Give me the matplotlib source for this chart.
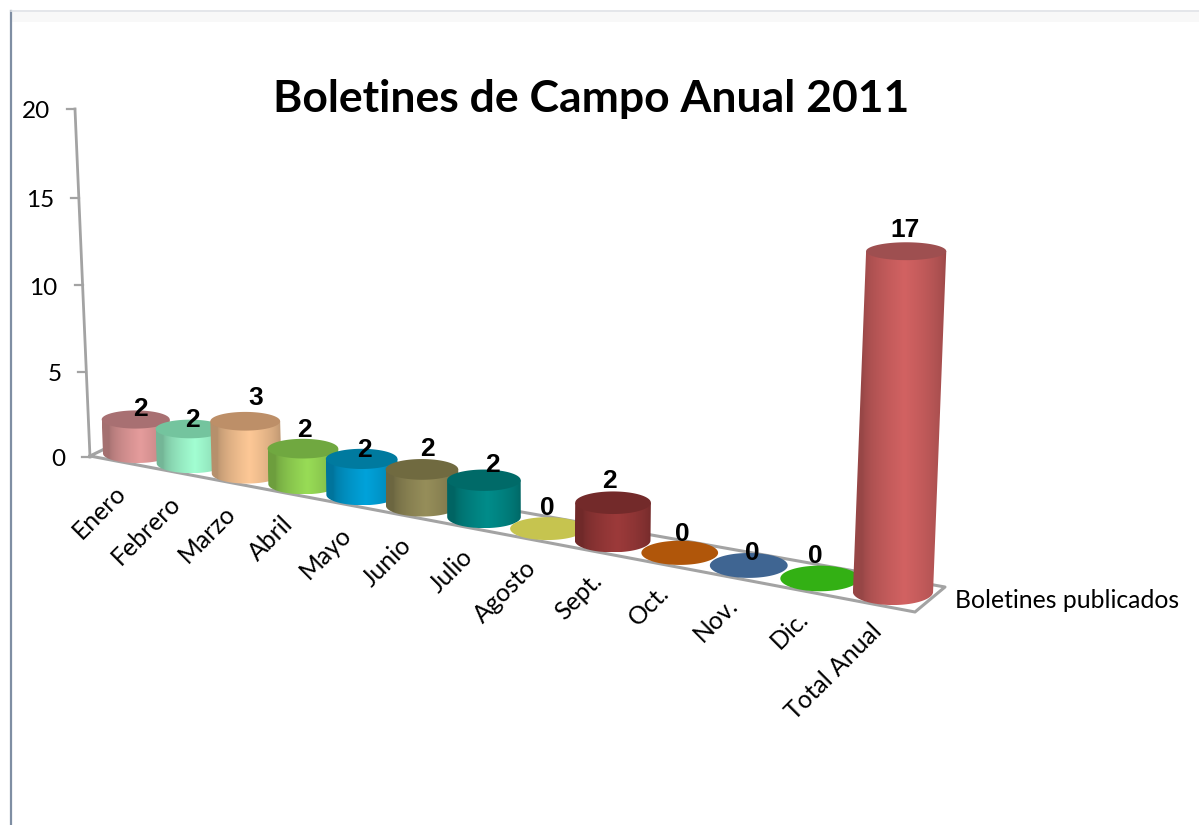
import numpy as np
import matplotlib
matplotlib.use("Agg")
import matplotlib.pyplot as plt
from matplotlib.patches import Polygon
from matplotlib.colors import to_rgb

# datos
meses = ["Enero", "Febrero", "Marzo", "Abril", "Mayo", "Junio", "Julio", "Agosto",
         "Sept.", "Oct.", "Nov.", "Dic.", "Total Anual"]
boletines = [2, 2, 3, 2, 2, 2, 2, 0, 2, 0, 0, 0, 17]
ticks_y = [0, 5, 10, 15, 20]
serie = "Boletines publicados"
titulo = "Boletines de Campo Anual 2011"

colores = ["#e59c9c", "#a2fed2", "#fdc896", "#98dc56", "#00a2da", "#968e5a", "#008c8a",
           "#c6c44f", "#9c3a3a", "#b0560a", "#3f6592", "#33b014", "#d26262"]
tapas = ["#a87072", "#74c49e", "#bd8f68", "#70a840", "#007a9f", "#706a40", "#006a68",
         "#c6c44f", "#732a2a", "#b0560a", "#3f6592", "#33b014", "#9e4f50"]

# desplazamiento de cada etiqueta respecto de la tapa (pixeles)
etiqueta_dx = [5, 2, 10, 2, 3, 6, 9, 0, -4, 3, 4, -5, -1]
etiqueta_dy = [-10, -9, -23, -19, -9, -20, -15, -21, -22, -19, -12, -22, -21]


# perspectiva: i = posicion de la categoria
def escala(i):
    return 1 / (1 - 0.01263 * i)

def base_x(i):
    return (137 + 51.72 * i) * escala(i)

def base_y(i):
    return 453.5 + 0.183 * (base_x(i) - 137)

def inclina(x, h):
    return x + (x - 513) * h * 1.02e-4

def altura_pared(v):
    return 17 * v / (1 - 0.00115 * v)


fig = plt.figure(figsize=(11.99, 8.25), dpi=100)
ax = fig.add_axes([0, 0, 1, 1])
ax.axis("off")

# marco
ax.plot([11, 11], [825, 11], color="#7f8ea3", lw=1.6, zorder=1)
ax.plot([11, 1199], [11, 11], color="#dfe2e6", lw=1.2, zorder=1)
ax.fill_between([12, 1199], 12, 22, color="#f8f8f8", lw=0, zorder=0)

# piso y eje
gris = "#a3a3a3"
ax.plot([90, 915, 945, 121, 90], [456, 612, 587, 441, 456], color=gris, lw=2.2, zorder=2)
for v in ticks_y:
    h = altura_pared(v)
    x = inclina(90, h)
    ax.plot([x - 8, x], [457 - h, 457 - h], color=gris, lw=1.6, zorder=2)
    ax.text(x - 25, 460 - h, str(v), ha="right", va="center", fontsize=17.5,
            family="Lato", color="black")
ax.plot([90, inclina(90, altura_pared(20))], [457, 457 - altura_pared(20)], color=gris, lw=2, zorder=2)

t = np.linspace(0, 2 * np.pi, 120)
arco = np.linspace(0, np.pi, 60)
for i, v in enumerate(boletines):
    s = escala(i)
    x0, y0 = base_x(i), base_y(i)
    r = 34 * s
    ry0 = 9.5 * s ** 2
    z = 5 + i
    if v == 0:
        ax.add_patch(Polygon(np.c_[x0 + r * np.cos(t), y0 + ry0 * np.sin(t)],
                             fc=colores[i], ec="none", zorder=z))
    else:
        h = 17 * v * s
        x1, y1 = inclina(x0, h), y0 - h
        ry1 = ry0 - 0.0125 * h
        # cuerpo: borde de abajo y luego subir por los costados
        xs = np.r_[x0 + r * np.cos(arco), x1 - r, x1 + r]
        ys = np.r_[y0 + ry0 * np.sin(arco), y1, y1]
        clip = Polygon(np.c_[xs, ys], transform=ax.transData, fc="none", ec="none")
        ax.add_patch(clip)
        u = np.linspace(0, 1, 80)
        luz = 0.72 + 0.28 * np.clip(1 - np.abs(u - 0.55) / 0.45, 0, 1) ** 0.6
        img = np.outer(luz, to_rgb(colores[i]))[None, :, :]
        im = ax.imshow(img, extent=[min(x0, x1) - r, max(x0, x1) + r, y0 + ry0, y1],
                       aspect="auto", interpolation="bilinear", zorder=z)
        im.set_clip_path(clip)
        ax.add_patch(Polygon(np.c_[x1 + r * np.cos(t), y1 + ry1 * np.sin(t)],
                             fc=tapas[i], ec="none", zorder=z + 0.1))
        x0, y0 = x1, y1
    ax.text(x0 + etiqueta_dx[i], y0 + etiqueta_dy[i], str(v), ha="center", va="center",
            fontsize=19, fontweight="bold", family="Liberation Sans", color="black", zorder=50)
    # etiqueta de categoria
    ax.text(base_x(i) - 15, base_y(i) + 36, meses[i], rotation=45, rotation_mode="anchor",
            ha="right", va="center", fontsize=17.8, family="Lato", color="black", zorder=50)

ax.text(955, 601, serie, ha="left", va="center", fontsize=17.8, family="Lato", color="black")
ax.text(591, 99, titulo, ha="center", va="center", fontsize=32, fontweight="bold",
        family="Lato", color="black")

ax.set_xlim(0, 1199)
ax.set_ylim(825, 0)
fig.savefig("out.png", dpi=100, facecolor="white")
